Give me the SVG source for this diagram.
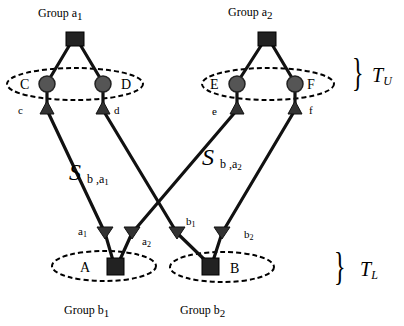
<svg xmlns="http://www.w3.org/2000/svg" width="404" height="326" viewBox="0 0 404 326">
<style>
.t{font-family:"Liberation Serif","DejaVu Serif",serif;fill:#000}
.g{font-size:12px}
.l{font-size:14px}
.s{font-size:11px}
.ell{fill:none;stroke:#000;stroke-width:2;stroke-dasharray:5 3}
.e{fill:none;stroke:#111;stroke-width:3.2;stroke-linejoin:round}
.sq{fill:#222;stroke:#000;stroke-width:1}
.ci{fill:#555;stroke:#222;stroke-width:1.5}
.tr{fill:#333;stroke:#111;stroke-width:1}
.it{font-family:"Liberation Serif","DejaVu Serif",serif;font-style:italic}
</style>
<rect width="404" height="326" fill="#fff"/>
<g id="ellipses">
<ellipse class="ell" cx="75" cy="84" rx="68" ry="16"/>
<ellipse class="ell" cx="268" cy="84" rx="66" ry="16"/>
<ellipse class="ell" cx="104" cy="266" rx="52" ry="15"/>
<ellipse class="ell" cx="222" cy="267" rx="52" ry="15"/>
</g>
<g id="connectors">
<polyline class="e" points="72,41 47,83 47,110 105,233 114,264"/>
<polyline class="e" points="78,41 103,83 103,110 177,233 209,264"/>
<polyline class="e" points="264,41 237,83 237,110 132,233 118,264"/>
<polyline class="e" points="270,41 295,83 295,110 222,233 212,264"/>
</g>
<g id="groupA1">
<rect class="sq" x="66" y="32" width="18" height="14"/>
<text class="t g" x="38" y="17">Group a<tspan class="s" dy="3">1</tspan></text>
</g>
<g id="groupA2">
<rect class="sq" x="258" y="32" width="18" height="14"/>
<text class="t g" x="228" y="16">Group a<tspan class="s" dy="3">2</tspan></text>
</g>
<g id="C"><circle class="ci" cx="47" cy="84" r="8"/><text class="t l" x="20" y="89">C</text></g>
<g id="D"><circle class="ci" cx="103" cy="84" r="8"/><text class="t l" x="121" y="89">D</text></g>
<g id="E"><circle class="ci" cx="237" cy="84" r="8"/><text class="t l" x="210" y="89">E</text></g>
<g id="F"><circle class="ci" cx="295" cy="84" r="8"/><text class="t l" x="307" y="89">F</text></g>
<g id="c"><polygon class="tr" points="47,101 40,114 54,114"/><text class="t s" x="18" y="114">c</text></g>
<g id="d"><polygon class="tr" points="103,101 96,114 110,114"/><text class="t s" x="114" y="114">d</text></g>
<g id="e"><polygon class="tr" points="237,101 230,114 244,114"/><text class="t s" x="212" y="115">e</text></g>
<g id="f"><polygon class="tr" points="295,101 288,114 302,114"/><text class="t s" x="309" y="114">f</text></g>
<g id="a1"><polygon class="tr" points="97,227 113,227 105,239"/><text class="t s" x="78" y="235">a<tspan font-size="8" dy="2">1</tspan></text></g>
<g id="a2"><polygon class="tr" points="124,227 140,227 132,239"/><text class="t s" x="142" y="245">a<tspan font-size="8" dy="2">2</tspan></text></g>
<g id="b1"><polygon class="tr" points="169,227 185,227 177,239"/><text class="t s" x="186" y="225">b<tspan font-size="8" dy="2">1</tspan></text></g>
<g id="b2"><polygon class="tr" points="214,227 230,227 222,239"/><text class="t s" x="244" y="238">b<tspan font-size="8" dy="2">2</tspan></text></g>
<g id="A"><rect class="sq" x="107" y="258" width="17" height="17"/><text class="t l" x="80" y="272">A</text></g>
<g id="B"><rect class="sq" x="202" y="258" width="17" height="17"/><text class="t l" x="230" y="273">B</text></g>
<g id="groupB1"><text class="t g" x="64" y="314">Group b<tspan class="s" dy="3">1</tspan></text></g>
<g id="groupB2"><text class="t g" x="180" y="314">Group b<tspan class="s" dy="3">2</tspan></text></g>
<g id="labels">
<text class="it" x="69" y="180" font-size="24">S</text>
<text class="t" x="87" y="183" font-size="12">b ,a<tspan font-size="9" dy="2">1</tspan></text>
<text class="it" x="202" y="165" font-size="24">S</text>
<text class="t" x="220" y="168" font-size="12">b ,a<tspan font-size="9" dy="2">2</tspan></text>
<text class="t" transform="translate(352,86) scale(0.6,1)" font-size="40">}</text>
<text class="it" x="372" y="82" font-size="20">T<tspan font-size="12" dy="3">U</tspan></text>
<text class="t" transform="translate(334,280) scale(0.6,1)" font-size="40">}</text>
<text class="it" x="360" y="276" font-size="20">T<tspan font-size="12" dy="3">L</tspan></text>
</g>
</svg>
